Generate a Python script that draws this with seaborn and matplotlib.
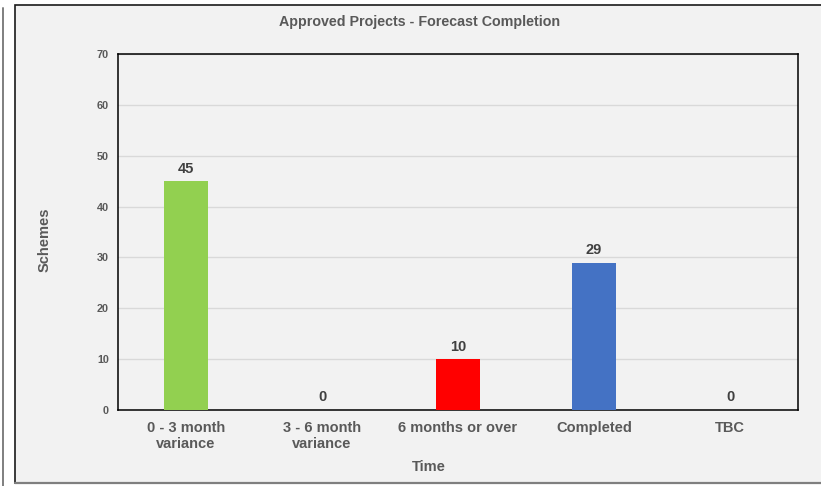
import matplotlib
matplotlib.use("Agg")
import matplotlib.pyplot as plt
from matplotlib.patches import Rectangle
from matplotlib.lines import Line2D
import seaborn as sns
import pandas as pd

categories = ["0 - 3 month\nvariance", "3 - 6 month\nvariance", "6 months or over", "Completed", "TBC"]
schemes = [45, 0, 10, 29, 0]
bar_colors = ["#92d050", "#92d050", "#ff0000", "#4472c4", "#4472c4"]
y_ticks = [0, 10, 20, 30, 40, 50, 60, 70]

sns.set_theme(style="white")
plt.rcParams["font.family"] = ["Liberation Sans", "DejaVu Sans"]

W, H = 821, 486
fig = plt.figure(figsize=(W / 100, H / 100), dpi=100, facecolor="white")

# chart area panel, drawn on a background axes
bg = fig.add_axes([0, 0, 1, 1], zorder=0)
bg.set_xlim(0, W)
bg.set_ylim(H, 0)
bg.axis("off")
bg.add_patch(Rectangle((15, 5), W - 15 + 5, 483 - 5, facecolor="#f2f2f2",
                       edgecolor="#1a1a1a", linewidth=1.2))
bg.add_line(Line2D([15, W], [483, 483], color="#7f7f7f", linewidth=1.6))
bg.add_line(Line2D([2.5, 2.5], [8, H], color="#7f7f7f", linewidth=1.4))

left, right, top, bottom = 118, 798, 54, 410
ax = fig.add_axes([left / W, 1 - bottom / H, (right - left) / W, (bottom - top) / H], zorder=5)
ax.set_facecolor("#f2f2f2")

df = pd.DataFrame({"Time": categories, "Schemes": schemes})
sns.barplot(data=df, x="Time", y="Schemes", hue="Time", palette=bar_colors,
            width=0.32, legend=False, ax=ax, saturation=1, linewidth=0, zorder=3)

ax.set_ylim(0, 70)
ax.set_yticks(y_ticks)
ax.set_xlim(-0.5, len(categories) - 0.5)
ax.yaxis.grid(True, color="#d9d9d9", linewidth=1, zorder=0)
ax.set_axisbelow(True)
for s in ax.spines.values():
    s.set_color("#000000")
    s.set_linewidth(1.1)

ax.tick_params(axis="y", length=0, pad=6.5, labelsize=7.8, labelcolor="#595959")
ax.tick_params(axis="x", length=0, pad=8, labelsize=10.5, labelcolor="#595959")
for lab in ax.get_yticklabels() + ax.get_xticklabels():
    lab.set_fontweight("bold")

for i, v in enumerate(schemes):
    ax.annotate(f"{v}", (i, v), xytext=(0, 4), textcoords="offset points",
                ha="center", va="bottom", fontsize=10.5, fontweight="bold", color="#404040")

ax.set_xlabel("")
ax.set_ylabel("")
fig.text(45 / W, 1 - 240 / H, "Schemes", rotation=90, ha="center", va="center",
         fontsize=10.5, fontweight="bold", color="#595959")
fig.text(429 / W, 1 - 467 / H, "Time", ha="center", va="center",
         fontsize=10.5, fontweight="bold", color="#595959")
fig.text(420 / W, 1 - 22 / H, "Approved Projects - Forecast Completion", ha="center", va="center",
         fontsize=10.3, fontweight="bold", color="#595959")

fig.savefig("out.png", dpi=100, facecolor="white")
